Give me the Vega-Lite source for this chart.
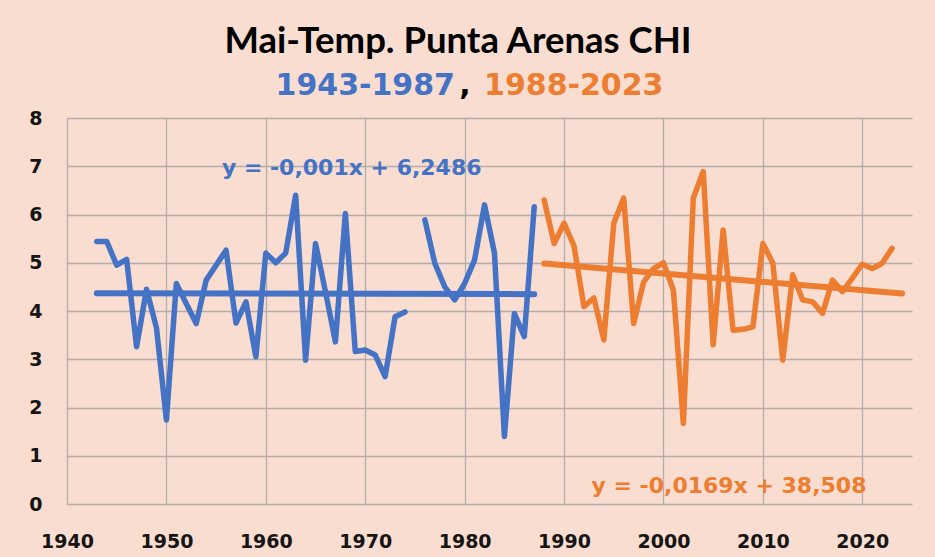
{
  "$schema": "https://vega.github.io/schema/vega-lite/v6.json",
  "autosize": {"type": "none"},
  "padding": {"left": 67, "top": 118, "right": 23, "bottom": 53},
  "width": 845,
  "height": 386,
  "background": "#F9DDD0",
  "config": {
    "view": {"stroke": null},
    "axis": {
      "grid": true,
      "gridColor": "#B0ADAB",
      "gridWidth": 1.3,
      "domain": false,
      "ticks": false,
      "labelFont": "DejaVu Sans",
      "labelFontWeight": "bold",
      "labelFontSize": 19,
      "labelColor": "#151515",
      "labelFlush": false,
      "title": null
    }
  },
  "datasets": {
    "temps": [
      {"year": 1943, "temp": 5.44, "period": "1943-1987"},
      {"year": 1944, "temp": 5.44, "period": "1943-1987"},
      {"year": 1945, "temp": 4.95, "period": "1943-1987"},
      {"year": 1946, "temp": 5.07, "period": "1943-1987"},
      {"year": 1947, "temp": 3.26, "period": "1943-1987"},
      {"year": 1948, "temp": 4.45, "period": "1943-1987"},
      {"year": 1949, "temp": 3.65, "period": "1943-1987"},
      {"year": 1950, "temp": 1.74, "period": "1943-1987"},
      {"year": 1951, "temp": 4.57, "period": "1943-1987"},
      {"year": 1952, "temp": 4.15, "period": "1943-1987"},
      {"year": 1953, "temp": 3.74, "period": "1943-1987"},
      {"year": 1954, "temp": 4.64, "period": "1943-1987"},
      {"year": 1955, "temp": 4.95, "period": "1943-1987"},
      {"year": 1956, "temp": 5.26, "period": "1943-1987"},
      {"year": 1957, "temp": 3.75, "period": "1943-1987"},
      {"year": 1958, "temp": 4.19, "period": "1943-1987"},
      {"year": 1959, "temp": 3.05, "period": "1943-1987"},
      {"year": 1960, "temp": 5.2, "period": "1943-1987"},
      {"year": 1961, "temp": 5.0, "period": "1943-1987"},
      {"year": 1962, "temp": 5.2, "period": "1943-1987"},
      {"year": 1963, "temp": 6.4, "period": "1943-1987"},
      {"year": 1964, "temp": 2.98, "period": "1943-1987"},
      {"year": 1965, "temp": 5.4, "period": "1943-1987"},
      {"year": 1966, "temp": 4.4, "period": "1943-1987"},
      {"year": 1967, "temp": 3.36, "period": "1943-1987"},
      {"year": 1968, "temp": 6.02, "period": "1943-1987"},
      {"year": 1969, "temp": 3.16, "period": "1943-1987"},
      {"year": 1970, "temp": 3.19, "period": "1943-1987"},
      {"year": 1971, "temp": 3.09, "period": "1943-1987"},
      {"year": 1972, "temp": 2.64, "period": "1943-1987"},
      {"year": 1973, "temp": 3.88, "period": "1943-1987"},
      {"year": 1974, "temp": 3.98, "period": "1943-1987"},
      {"year": 1975, "temp": null, "period": "1943-1987"},
      {"year": 1976, "temp": 5.89, "period": "1943-1987"},
      {"year": 1977, "temp": 4.99, "period": "1943-1987"},
      {"year": 1978, "temp": 4.5, "period": "1943-1987"},
      {"year": 1979, "temp": 4.23, "period": "1943-1987"},
      {"year": 1980, "temp": 4.57, "period": "1943-1987"},
      {"year": 1981, "temp": 5.06, "period": "1943-1987"},
      {"year": 1982, "temp": 6.2, "period": "1943-1987"},
      {"year": 1983, "temp": 5.2, "period": "1943-1987"},
      {"year": 1984, "temp": 1.4, "period": "1943-1987"},
      {"year": 1985, "temp": 3.95, "period": "1943-1987"},
      {"year": 1986, "temp": 3.47, "period": "1943-1987"},
      {"year": 1987, "temp": 6.16, "period": "1943-1987"},
      {"year": 1988, "temp": 6.3, "period": "1988-2023"},
      {"year": 1989, "temp": 5.4, "period": "1988-2023"},
      {"year": 1990, "temp": 5.82, "period": "1988-2023"},
      {"year": 1991, "temp": 5.35, "period": "1988-2023"},
      {"year": 1992, "temp": 4.09, "period": "1988-2023"},
      {"year": 1993, "temp": 4.27, "period": "1988-2023"},
      {"year": 1994, "temp": 3.4, "period": "1988-2023"},
      {"year": 1995, "temp": 5.82, "period": "1988-2023"},
      {"year": 1996, "temp": 6.34, "period": "1988-2023"},
      {"year": 1997, "temp": 3.74, "period": "1988-2023"},
      {"year": 1998, "temp": 4.6, "period": "1988-2023"},
      {"year": 1999, "temp": 4.88, "period": "1988-2023"},
      {"year": 2000, "temp": 5.0, "period": "1988-2023"},
      {"year": 2001, "temp": 4.43, "period": "1988-2023"},
      {"year": 2002, "temp": 1.67, "period": "1988-2023"},
      {"year": 2003, "temp": 6.34, "period": "1988-2023"},
      {"year": 2004, "temp": 6.89, "period": "1988-2023"},
      {"year": 2005, "temp": 3.3, "period": "1988-2023"},
      {"year": 2006, "temp": 5.68, "period": "1988-2023"},
      {"year": 2007, "temp": 3.6, "period": "1988-2023"},
      {"year": 2008, "temp": 3.62, "period": "1988-2023"},
      {"year": 2009, "temp": 3.67, "period": "1988-2023"},
      {"year": 2010, "temp": 5.4, "period": "1988-2023"},
      {"year": 2011, "temp": 4.99, "period": "1988-2023"},
      {"year": 2012, "temp": 2.98, "period": "1988-2023"},
      {"year": 2013, "temp": 4.75, "period": "1988-2023"},
      {"year": 2014, "temp": 4.23, "period": "1988-2023"},
      {"year": 2015, "temp": 4.19, "period": "1988-2023"},
      {"year": 2016, "temp": 3.95, "period": "1988-2023"},
      {"year": 2017, "temp": 4.64, "period": "1988-2023"},
      {"year": 2018, "temp": 4.4, "period": "1988-2023"},
      {"year": 2019, "temp": 4.68, "period": "1988-2023"},
      {"year": 2020, "temp": 4.97, "period": "1988-2023"},
      {"year": 2021, "temp": 4.88, "period": "1988-2023"},
      {"year": 2022, "temp": 4.99, "period": "1988-2023"},
      {"year": 2023, "temp": 5.3, "period": "1988-2023"}
    ],
    "labels": [
      {"label": "Mai-Temp. Punta Arenas CHI", "kind": "title"},
      {"label": "1943-1987", "kind": "sub1"},
      {"label": ",", "kind": "comma"},
      {"label": "1988-2023", "kind": "sub2"},
      {"label": "y = -0,001x + 6,2486", "kind": "eq1"},
      {"label": "y = -0,0169x + 38,508", "kind": "eq2"}
    ]
  },
  "layer": [
    {
      "data": {"name": "temps"},
      "transform": [{"filter": "datum.period === '1943-1987'"}],
      "mark": {"type": "line", "color": "#4472C4", "strokeWidth": 5.5, "strokeJoin": "round", "strokeCap": "round", "invalid": "break-paths-show-domains"},
      "encoding": {
        "x": {
          "field": "year",
          "type": "quantitative",
          "scale": {"domain": [1940, 2025], "nice": false, "zero": false},
          "axis": {"values": [1940, 1950, 1960, 1970, 1980, 1990, 2000, 2010, 2020], "format": "d", "labelPadding": 28}
        },
        "y": {
          "field": "temp",
          "type": "quantitative",
          "scale": {"domain": [0, 8], "nice": false},
          "axis": {"values": [0, 1, 2, 3, 4, 5, 6, 7, 8], "labelPadding": 25}
        }
      }
    },
    {
      "data": {"name": "temps"},
      "transform": [
        {"filter": "datum.period === '1943-1987' && datum.temp != null"},
        {"regression": "temp", "on": "year", "extent": [1943, 1987]}
      ],
      "mark": {"type": "line", "color": "#4472C4", "strokeWidth": 6, "strokeCap": "round"},
      "encoding": {
        "x": {"field": "year", "type": "quantitative"},
        "y": {"field": "temp", "type": "quantitative"}
      }
    },
    {
      "data": {"name": "temps"},
      "transform": [{"filter": "datum.period === '1988-2023'"}],
      "mark": {"type": "line", "color": "#ED7D31", "strokeWidth": 5.5, "strokeJoin": "round", "strokeCap": "round"},
      "encoding": {
        "x": {"field": "year", "type": "quantitative"},
        "y": {"field": "temp", "type": "quantitative"}
      }
    },
    {
      "data": {"name": "temps"},
      "transform": [
        {"filter": "datum.period === '1988-2023'"},
        {"regression": "temp", "on": "year", "extent": [1988, 2024]}
      ],
      "mark": {"type": "line", "color": "#ED7D31", "strokeWidth": 6, "strokeCap": "round"},
      "encoding": {
        "x": {"field": "year", "type": "quantitative"},
        "y": {"field": "temp", "type": "quantitative"}
      }
    },
    {
      "data": {"name": "labels"},
      "transform": [{"filter": "datum.kind === 'title'"}],
      "mark": {"type": "text", "font": "Lato", "fontWeight": "bold", "fontSize": 36.5, "color": "#000000", "align": "center", "baseline": "alphabetic"},
      "encoding": {"text": {"field": "label"}, "x": {"datum": 1979.33, "type": "quantitative"}, "y": {"datum": 9.353, "type": "quantitative"}}
    },
    {
      "data": {"name": "labels"},
      "transform": [{"filter": "datum.kind === 'sub1'"}],
      "mark": {"type": "text", "font": "DejaVu Sans", "fontWeight": "bold", "fontSize": 30, "color": "#4472C4", "align": "right", "baseline": "alphabetic"},
      "encoding": {"text": {"field": "label"}, "x": {"datum": 1979.03, "type": "quantitative"}, "y": {"datum": 8.477, "type": "quantitative"}}
    },
    {
      "data": {"name": "labels"},
      "transform": [{"filter": "datum.kind === 'comma'"}],
      "mark": {"type": "text", "font": "DejaVu Sans", "fontWeight": "bold", "fontSize": 30, "color": "#000000", "align": "left", "baseline": "alphabetic"},
      "encoding": {"text": {"field": "label"}, "x": {"datum": 1979.45, "type": "quantitative"}, "y": {"datum": 8.477, "type": "quantitative"}}
    },
    {
      "data": {"name": "labels"},
      "transform": [{"filter": "datum.kind === 'sub2'"}],
      "mark": {"type": "text", "font": "DejaVu Sans", "fontWeight": "bold", "fontSize": 30, "color": "#ED7D31", "align": "left", "baseline": "alphabetic"},
      "encoding": {"text": {"field": "label"}, "x": {"datum": 1981.95, "type": "quantitative"}, "y": {"datum": 8.477, "type": "quantitative"}}
    },
    {
      "data": {"name": "labels"},
      "transform": [{"filter": "datum.kind === 'eq1'"}],
      "mark": {"type": "text", "font": "DejaVu Sans", "fontWeight": "bold", "fontSize": 22, "color": "#4472C4", "align": "center", "baseline": "alphabetic"},
      "encoding": {"text": {"field": "label"}, "x": {"datum": 1968.64, "type": "quantitative"}, "y": {"datum": 6.819, "type": "quantitative"}}
    },
    {
      "data": {"name": "labels"},
      "transform": [{"filter": "datum.kind === 'eq2'"}],
      "mark": {"type": "text", "font": "DejaVu Sans", "fontWeight": "bold", "fontSize": 22, "color": "#ED7D31", "align": "center", "baseline": "alphabetic"},
      "encoding": {"text": {"field": "label"}, "x": {"datum": 2006.59, "type": "quantitative"}, "y": {"datum": 0.228, "type": "quantitative"}}
    }
  ]
}
